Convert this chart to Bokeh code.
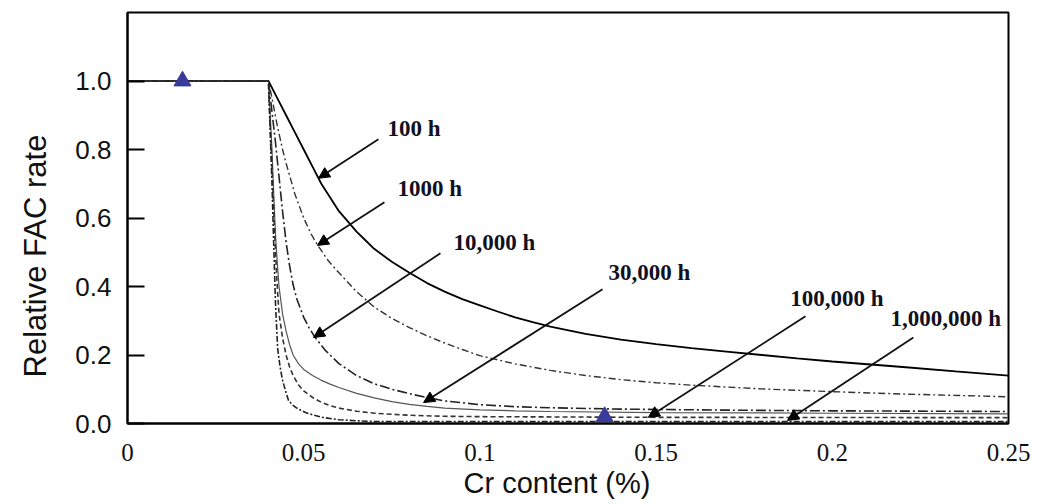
from bokeh.plotting import figure
from bokeh.models import (Range1d, FixedTicker, Arrow, NormalHead, ColumnDataSource,
                          PrintfTickFormatter, Title)
from bokeh.core.properties import value
from bokeh.embed import file_html
from bokeh.resources import INLINE

# Relative FAC rate vs Cr content, one curve per exposure time
cr_100h = [0.0, 0.04, 0.0425, 0.045, 0.0475, 0.05, 0.0525, 0.055, 0.0575, 0.06, 0.0625,
           0.065, 0.0675, 0.07, 0.075, 0.08, 0.085, 0.09, 0.095, 0.10, 0.105, 0.11, 0.115,
           0.12, 0.13, 0.14, 0.15, 0.16, 0.17, 0.18, 0.19, 0.20, 0.21, 0.22, 0.235, 0.25]
rate_100h = [1.0, 1.0, 0.95, 0.90, 0.85, 0.80, 0.75, 0.70, 0.66, 0.62, 0.59,
             0.56, 0.535, 0.51, 0.472, 0.44, 0.41, 0.385, 0.363, 0.345, 0.327, 0.31, 0.296,
             0.283, 0.262, 0.245, 0.232, 0.22, 0.21, 0.20, 0.19, 0.181, 0.173, 0.165, 0.152, 0.14]

cr_1000h = [0.0, 0.04, 0.041, 0.0425, 0.044, 0.045, 0.0475, 0.05, 0.052, 0.054, 0.057, 0.06,
            0.065, 0.07, 0.075, 0.08, 0.085, 0.09, 0.095, 0.10, 0.11, 0.12, 0.13, 0.14,
            0.15, 0.16, 0.18, 0.20, 0.22, 0.25]
rate_1000h = [1.0, 1.0, 0.95, 0.87, 0.80, 0.76, 0.67, 0.60, 0.555, 0.52, 0.475, 0.44,
              0.385, 0.34, 0.307, 0.28, 0.256, 0.235, 0.216, 0.198, 0.174, 0.155, 0.14, 0.128,
              0.119, 0.112, 0.101, 0.093, 0.086, 0.078]

cr_10000h = [0.0, 0.04, 0.041, 0.042, 0.043, 0.044, 0.045, 0.046, 0.047, 0.048, 0.05,
             0.0515, 0.053, 0.056, 0.06, 0.065, 0.07, 0.075, 0.08, 0.085, 0.09, 0.10, 0.11,
             0.12, 0.14, 0.17, 0.20, 0.25]
rate_10000h = [1.0, 1.0, 0.91, 0.82, 0.72, 0.62, 0.53, 0.46, 0.405, 0.365, 0.31,
               0.28, 0.255, 0.215, 0.175, 0.14, 0.116, 0.10, 0.087, 0.076, 0.066, 0.055, 0.049,
               0.046, 0.042, 0.039, 0.037, 0.035]

cr_30000h = [0.0, 0.04, 0.0405, 0.041, 0.0415, 0.042, 0.0425, 0.043, 0.044, 0.045, 0.046,
             0.047, 0.0485, 0.05, 0.0525, 0.055, 0.0575, 0.06, 0.065, 0.07, 0.075, 0.08,
             0.085, 0.09, 0.10, 0.11, 0.12, 0.15, 0.20, 0.25]
rate_30000h = [1.0, 1.0, 0.90, 0.80, 0.67, 0.55, 0.47, 0.40, 0.32, 0.27, 0.23,
               0.20, 0.175, 0.158, 0.14, 0.126, 0.115, 0.105, 0.088, 0.075, 0.064, 0.056,
               0.05, 0.045, 0.040, 0.037, 0.035, 0.032, 0.030, 0.028]

cr_100000h = [0.0, 0.04, 0.0405, 0.041, 0.0415, 0.042, 0.0425, 0.043, 0.044, 0.045, 0.046,
              0.047, 0.0485, 0.05, 0.0525, 0.055, 0.0575, 0.06, 0.065, 0.07, 0.08, 0.09,
              0.10, 0.15, 0.25]
rate_100000h = [1.0, 1.0, 0.87, 0.75, 0.62, 0.50, 0.40, 0.32, 0.25, 0.20, 0.165,
                0.14, 0.113, 0.095, 0.076, 0.062, 0.052, 0.045, 0.036, 0.030, 0.024, 0.021,
                0.020, 0.018, 0.017]

cr_1000000h = [0.0, 0.04, 0.0405, 0.041, 0.0415, 0.042, 0.0426, 0.0433, 0.044, 0.045,
               0.0457, 0.047, 0.048, 0.0505, 0.053, 0.0553, 0.06, 0.065, 0.07, 0.10, 0.25]
rate_1000000h = [1.0, 1.0, 0.85, 0.70, 0.52, 0.35, 0.22, 0.165, 0.126, 0.09,
                 0.067, 0.053, 0.045, 0.032, 0.024, 0.018, 0.011, 0.008, 0.006, 0.006, 0.006]

# measured points
marker_cr = [0.0156, 0.1354]
marker_rate = [1.0, 0.02]

# curve labels and their pointer arrows
label_text = ["100 h", "1000 h", "10,000 h", "30,000 h", "100,000 h", "1,000,000 h"]
label_cr = [0.0738, 0.0766, 0.0925, 0.1365, 0.1881, 0.2165]
label_rate = [0.862, 0.687, 0.529, 0.441, 0.365, 0.307]
arrow_cr_start = [0.0712, 0.0729, 0.0888, 0.1348, 0.1924, 0.2230]
arrow_rate_start = [0.830, 0.646, 0.497, 0.392, 0.313, 0.251]
arrow_cr_end = [0.0542, 0.0539, 0.0528, 0.0840, 0.1478, 0.1873]
arrow_rate_end = [0.716, 0.520, 0.251, 0.061, 0.018, 0.009]

y_ticks = [0.0, 0.2, 0.4, 0.6, 0.8, 1.0]
x_ticks = [0.0, 0.05, 0.1, 0.15, 0.2, 0.25]

p = figure(width=1040, height=504, output_backend="svg", toolbar_location=None,
           x_range=Range1d(0, 0.25), y_range=Range1d(0, 1.2))
p.min_border_left = 127
p.min_border_right = 32
p.min_border_top = 12
p.min_border_bottom = 81
p.background_fill_color = "white"
p.border_fill_color = "white"
p.outline_line_color = "black"
p.outline_line_width = 2
p.grid.visible = False

# x axis
xa = p.xaxis[0]
xa.ticker = FixedTicker(ticks=x_ticks)
xa.major_label_text_font = "Liberation Serif"
xa.major_label_text_font_size = "25px"
xa.major_label_text_color = "#111111"
xa.major_label_standoff = 14
xa.major_tick_line_color = None
xa.minor_tick_line_color = None
xa.axis_line_color = "black"
xa.axis_line_width = 2

# y axis
ya = p.yaxis[0]
ya.ticker = FixedTicker(ticks=y_ticks)
ya.formatter = PrintfTickFormatter(format="%.1f")
ya.major_label_text_font = "Liberation Sans"
ya.major_label_text_font_size = "26px"
ya.major_label_text_color = "#111111"
ya.major_label_standoff = 16
ya.major_tick_in = 17
ya.major_tick_out = 0
ya.major_tick_line_color = "black"
ya.major_tick_line_width = 2
ya.minor_tick_line_color = None
ya.axis_line_color = "black"
ya.axis_line_width = 2

# axis titles
p.add_layout(Title(text="Cr content (%)", align="left", offset=336,
                   text_font="Liberation Sans", text_font_style="normal",
                   text_font_size="29px", text_color="#111111", standoff=2), "below")
p.add_layout(Title(text="Relative FAC rate", align="left", offset=46, vertical_align="top",
                   text_font="Liberation Sans", text_font_style="normal",
                   text_font_size="31px", text_color="#111111", standoff=35), "left")

# curves
p.line(cr_100h, rate_100h, line_color="black", line_width=1.8)
p.line(cr_1000h, rate_1000h, line_color="#333333", line_width=1.4, line_dash="7 3 2 3")
p.line(cr_10000h, rate_10000h, line_color="#222222", line_width=1.6, line_dash="10 3 2 3")
p.line(cr_30000h, rate_30000h, line_color="#555555", line_width=1.2)
p.line(cr_100000h, rate_100000h, line_color="#333333", line_width=1.6, line_dash="5 3")
p.line(cr_1000000h, rate_1000000h, line_color="#222222", line_width=1.6, line_dash="6 2 2 2")

# arrows from labels to curves
for xs, ys, xe, ye in zip(arrow_cr_start, arrow_rate_start, arrow_cr_end, arrow_rate_end):
    p.add_layout(Arrow(x_start=xs, y_start=ys, x_end=xe, y_end=ye,
                       line_color="#111111", line_width=1.8,
                       end=NormalHead(size=11, fill_color="black", line_color="black")))

labels = ColumnDataSource(dict(x=label_cr, y=label_rate, text=label_text))
p.text(x="x", y="y", text="text", source=labels, text_font=value("Liberation Serif"),
       text_font_style="bold", text_font_size="23px", text_color="#111122",
       text_align="left", text_baseline="middle")

p.scatter(marker_cr, marker_rate, marker="triangle", size=17,
          fill_color="#3a3a9c", line_color="#3a3a9c")

open("out.html", "w").write(file_html(p, INLINE))
